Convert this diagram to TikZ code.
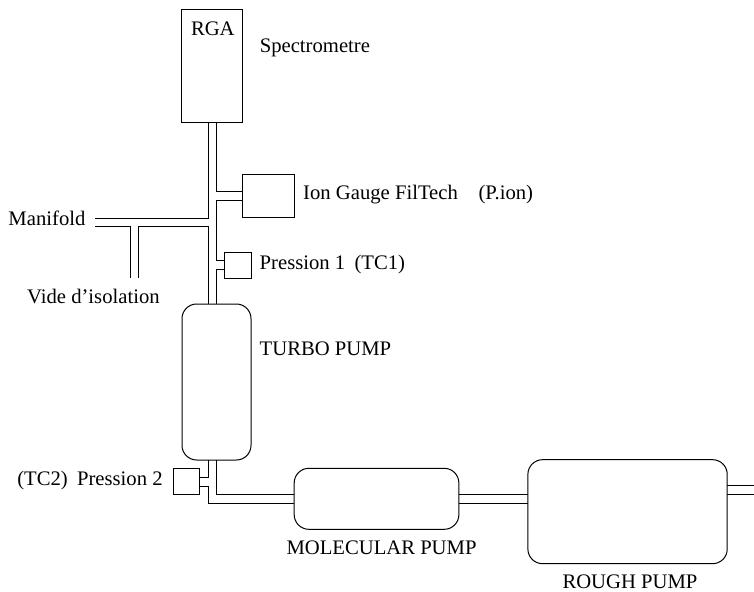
\documentclass[tikz,border=0pt]{standalone}
\usepackage{fontspec}
\setmainfont{Liberation Serif}
\begin{document}
\begin{tikzpicture}[x=0.75pt,y=-0.75pt,line width=0.75pt,
  box/.style={draw,rectangle,inner sep=0pt,outer sep=0pt,anchor=north west},
  pump/.style={box,rounded corners=11pt},
  lab/.style={inner sep=0pt,anchor=base west,font=\fontsize{15.5pt}{18pt}\selectfont},
  tube/.style={line width=0.75pt}]
\useasboundingbox (0,0) rectangle (754,592);
\node[box,minimum width=45.5pt,minimum height=84.4pt] (rga) at (181.9,9.7) {};
\node[box,minimum width=39pt,minimum height=32.25pt] (ion) at (242.5,174.3) {};
\node[box,minimum width=19.75pt,minimum height=19.5pt] (p1) at (224.9,252) {};
\node[pump,minimum width=51.75pt,minimum height=117pt] (turbo) at (182,304) {};
\node[box,minimum width=19.75pt,minimum height=19.5pt] (p2) at (173,468.3) {};
\node[pump,minimum width=123.5pt,minimum height=45.75pt] (mol) at (294.2,468.3) {};
\node[pump,minimum width=149.5pt,minimum height=78pt] (rough) at (527.9,459.7) {};
\coordinate (tl) at (208,0);
\coordinate (tr) at (216.3,0);
\coordinate (brl) at (130,0);
\coordinate (brr) at (138.3,0);
\coordinate (manend) at (95,0);
\coordinate (mt) at (0,218);
\coordinate (mb) at (0,226.3);
\coordinate (brend) at (0,277.7);
\coordinate (iont) at (0,191.3);
\coordinate (ionb) at (0,200);
\coordinate (p1t) at (0,260.7);
\coordinate (p1b) at (0,269.7);
\coordinate (p2t) at (0,477.3);
\coordinate (p2b) at (0,486);
\coordinate (mrt) at (0,494.3);
\coordinate (mrb) at (0,503);
\coordinate (outt) at (0,485.3);
\coordinate (outend) at (754,0);
% main column, left wall
\draw[tube] (tl |- rga.south) -- (tl |- mt) -- (manend |- mt);
\draw[tube] (manend |- mb) -- (brl |- mb) -- (brl |- brend);
\draw[tube] (brr |- brend) -- (brr |- mb) -- (tl |- mb) -- (tl |- turbo.north);
% main column, right wall
\draw[tube] (tr |- rga.south) -- (tr |- iont) -- (ion.west |- iont);
\draw[tube] (ion.west |- ionb) -- (tr |- ionb) -- (tr |- p1t) -- (p1.west |- p1t);
\draw[tube] (p1.west |- p1b) -- (tr |- p1b) -- (tr |- turbo.north);
% bottom of turbo
\draw[tube] (tl |- turbo.south) -- (tl |- p2t) -- (p2.east |- p2t);
\draw[tube] (p2.east |- p2b) -- (tl |- p2b) -- (tl |- mrb) -- (mol.west |- mrb);
\draw[tube] (tr |- turbo.south) -- (tr |- mrt) -- (mol.west |- mrt);
% molecular to rough
\draw[tube] (mol.east |- mrt) -- (rough.west |- mrt);
\draw[tube] (mol.east |- mrb) -- (rough.west |- mrb);
% exhaust
\draw[tube] (rough.east |- outt) -- (outend |- outt);
\draw[tube] (rough.east |- mrt) -- (outend |- mrt);
% labels
\node[lab] (trga) at (190.5,35.5) {RGA};
\node[lab] (tspec) at (259.3,52.5) {Spectrometre};
\node[lab] (tion) at (302.7,199.5) {Ion Gauge FilTech\hspace{1em}(P.ion)};
\node[lab] (tman) at (8,225.2) {Manifold};
\node[lab] (tvide) at (26.7,303.5) {Vide d’isolation};
\node[lab] (tp1) at (259.2,269.5) {Pression 1\hspace{0.45em}(TC1)};
\node[lab] (ttur) at (259.2,355.2) {TURBO PUMP};
\node[lab] (tp2) at (16.8,485.5) {(TC2)\hspace{0.45em}Pression 2};
\node[lab] (tmol) at (286,554.8) {MOLECULAR PUMP};
\node[lab] (trou) at (562,588.5) {ROUGH PUMP};
\end{tikzpicture}
\end{document}
